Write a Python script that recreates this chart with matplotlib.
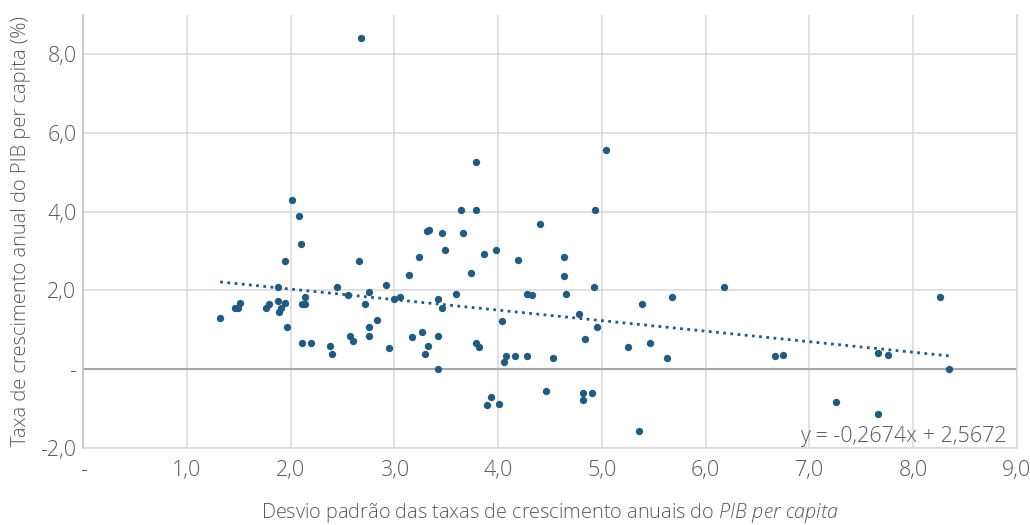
import numpy as np
import matplotlib.pyplot as plt
from matplotlib.ticker import FixedLocator, FuncFormatter

# desvio padrao das taxas de crescimento (x) vs taxa media anual do PIB per capita (y)
desvio = [1.32, 1.46, 1.49, 1.51, 1.76, 1.79, 1.88, 1.88, 1.94, 1.91,
          1.89, 1.96, 1.94, 2.01, 2.08, 2.10, 2.14, 2.11, 2.14, 2.11,
          2.20, 2.38, 2.40, 2.45, 2.55, 2.57, 2.60, 2.66, 2.68, 2.72,
          2.75, 2.75, 2.75, 2.83, 2.92, 2.95, 3.00, 3.05, 3.14, 3.17,
          3.24, 3.27, 3.29, 3.31, 3.33, 3.32, 3.79, 3.64, 3.79, 4.93,
          5.04, 4.40, 3.46, 3.66, 3.49, 3.98, 3.86, 4.19, 4.63, 3.74,
          4.63, 4.92, 3.59, 4.28, 4.33, 4.65, 3.42, 3.46, 4.78, 4.04,
          4.95, 3.42, 4.84, 3.79, 3.82, 4.08, 4.06, 4.16, 4.28, 4.53,
          5.25, 3.42, 4.46, 3.93, 3.89, 4.01, 4.82, 4.90, 4.82, 5.39,
          5.68, 6.18, 5.46, 5.63, 6.67, 6.75, 7.66, 7.76, 8.26, 8.35,
          7.26, 7.66, 5.36]
crescimento = [1.29, 1.56, 1.56, 1.69, 1.56, 1.65, 2.09, 1.73, 1.69, 1.56,
               1.46, 1.07, 2.75, 4.30, 3.90, 3.19, 1.83, 1.65, 1.65, 0.67,
               0.67, 0.58, 0.37, 2.09, 1.87, 0.85, 0.72, 2.75, 8.42, 1.65,
               1.95, 1.07, 0.85, 1.25, 2.13, 0.54, 1.77, 1.83, 2.39, 0.81,
               2.84, 0.94, 0.37, 3.50, 3.54, 0.58, 5.27, 4.04, 4.04, 4.04,
               5.58, 3.68, 3.46, 3.46, 3.02, 3.02, 2.93, 2.76, 2.84, 2.45,
               2.36, 2.08, 1.92, 1.92, 1.87, 1.92, 1.78, 1.56, 1.39, 1.21,
               1.07, 0.85, 0.77, 0.67, 0.55, 0.33, 0.19, 0.33, 0.33, 0.29,
               0.55, 0.00, -0.56, -0.70, -0.92, -0.88, -0.61, -0.61, -0.78, 1.65,
               1.83, 2.09, 0.67, 0.27, 0.32, 0.36, 0.41, 0.36, 1.83, 0.01,
               -0.83, -1.14, -1.58]

# linha de tendencia (regressao linear)
slope = -0.2674
intercept = 2.5672

xticks = [0, 1, 2, 3, 4, 5, 6, 7, 8, 9]
yticks = [-2, 0, 2, 4, 6, 8]

plt.rcParams['font.family'] = ['Open Sans', 'DejaVu Sans']
plt.rcParams['font.weight'] = 'light'
plt.rcParams['axes.labelweight'] = 'light'
plt.rcParams['mathtext.fontset'] = 'custom'
plt.rcParams['mathtext.rm'] = 'Open Sans:light'
plt.rcParams['mathtext.it'] = 'Open Sans:italic:light'

blue = '#235b7e'
txt = '#595959'

def fmt(v, pos):
    if abs(v) < 1e-9:
        return '-'
    return f'{v:.1f}'.replace('.', ',')

fig = plt.figure(figsize=(10.3, 5.25), dpi=100)
ax = fig.add_axes([0.0809, 0.1472, 0.9062, 0.8242])

ax.set_xlim(0, 9)
ax.set_ylim(-2, 9)
ax.xaxis.set_major_locator(FixedLocator(xticks))
ax.yaxis.set_major_locator(FixedLocator(yticks))
ax.xaxis.set_major_formatter(FuncFormatter(fmt))
ax.yaxis.set_major_formatter(FuncFormatter(fmt))

ax.grid(True, color='#d9d9d9', lw=1.1, zorder=0)
ax.axhline(0, color='#a6a6a6', lw=1.5, zorder=1)
ax.set_axisbelow(True)
ax.spines['top'].set_visible(False)
for s in ['left', 'right', 'bottom']:
    ax.spines[s].set_color('#d9d9d9')
    ax.spines[s].set_linewidth(1.1)
ax.spines['left'].set_color('#bfbfbf')

ax.tick_params(length=0, labelsize=15.5, labelcolor=txt)
ax.tick_params(axis='y', pad=5)
ax.tick_params(axis='x', pad=9)

ax.scatter(desvio, crescimento, s=28, color=blue, zorder=3, linewidths=0)

xt = np.array([min(desvio), max(desvio)])
ax.plot(xt, slope * xt + intercept, color=blue, lw=2, ls=(0, (1, 1.6)), zorder=2)

eq = f'y = {slope:.4f}x + {intercept:.4f}'.replace('.', ',')
ax.text(8.9, -1.72, eq, ha='right', va='center', fontsize=15.5, color=txt)

ax.set_xlabel('Desvio padrão das taxas de crescimento anuais do $\\mathit{PIB\\ per\\ capita}$',
              fontsize=14.3, color=txt, labelpad=14)
ax.set_ylabel('Taxa de crescimento anual do PIB per capita (%)', fontsize=14.5,
              color=txt, labelpad=7)

fig.savefig('out.png', dpi=100)
